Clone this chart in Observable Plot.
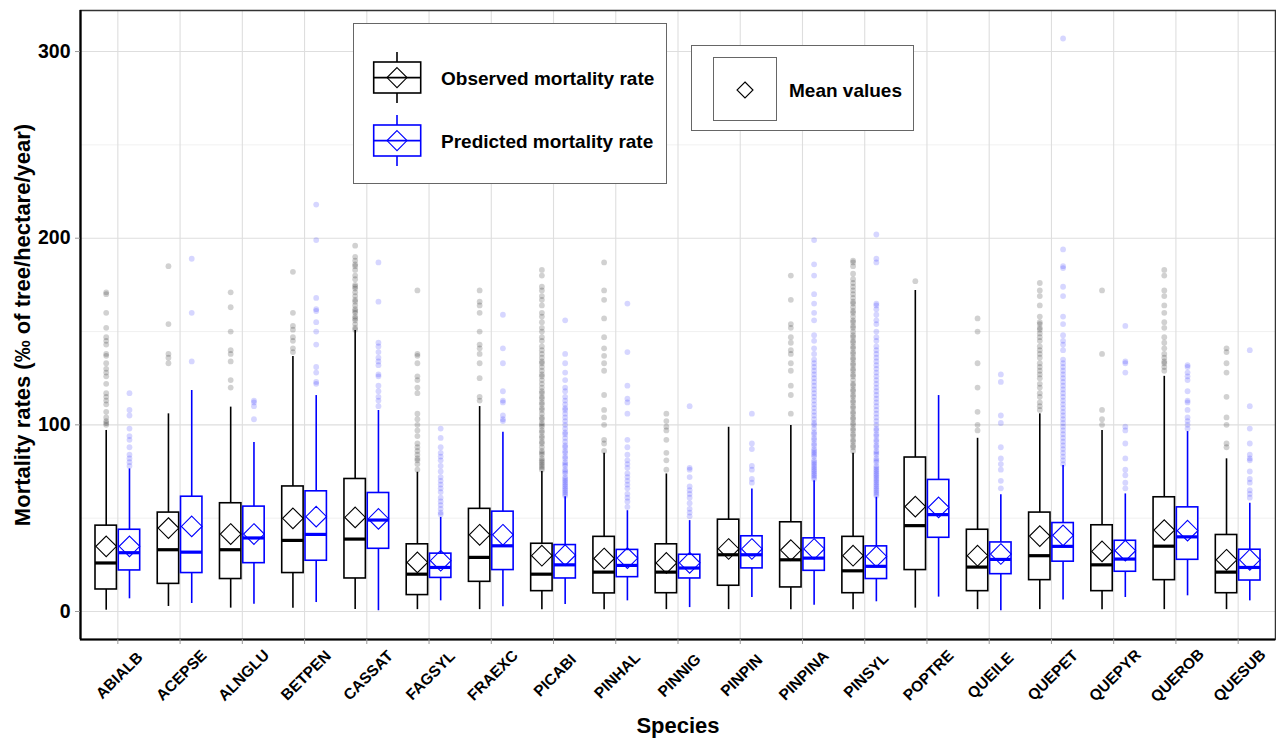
<!DOCTYPE html>
<html>
<head>
<meta charset="utf-8">
<script src="https://cdn.jsdelivr.net/npm/d3@7"></script>
<script src="https://cdn.jsdelivr.net/npm/@observablehq/plot@0.6"></script>
<style>
  html, body { margin: 0; padding: 0; background: #fff; }
  #wrap { position: relative; width: 1276px; height: 738px; font-family: "Liberation Sans", Arial, sans-serif; }
  .lg { position: absolute; background: #fff; border: 1px solid #666; box-sizing: border-box; }
  .lt { position: absolute; font-size: 19px; font-weight: bold; color: #000; white-space: nowrap; line-height: 1; }
</style>
</head>
<body>
<div id="wrap"></div>
<script>
// ---------- data ----------
const species = ["ABIALB","ACEPSE","ALNGLU","BETPEN","CASSAT","FAGSYL","FRAEXC","PICABI","PINHAL","PINNIG","PINPIN","PINPINA","PINSYL","POPTRE","QUEILE","QUEPET","QUEPYR","QUEROB","QUESUB"];

// Observed: lower whisker, Q1, median, Q3, upper whisker, mean
const obsLow  = [0.7, 2.7, 1.8, 1.8, 1.1, 1, 1, 1, 1, 1, 1, 1, 1, 1.8, 1, 1, 1, 1, 1];
const obsQ1   = [11.8, 14.8, 17.4, 20.6, 17.7, 8.8, 15.9, 10.9, 9.7, 9.8, 13.8, 12.9, 9.8, 22.2, 10.9, 16.8, 10.9, 16.8, 9.8];
const obsMed  = [26, 33.1, 33.1, 38.1, 38.8, 20, 29, 20, 21.1, 21.1, 30.4, 27.7, 21.8, 46, 23.8, 29.9, 25, 35, 21.1];
const obsQ3   = [46, 53, 58, 67, 71, 36, 55, 36.3, 40, 36, 49.2, 47.8, 40, 82.5, 43.8, 53, 46.2, 61.2, 41];
const obsHigh = [97, 105.9, 109.5, 136.6, 150.5, 74.6, 109.8, 75, 84.8, 73.7, 98.7, 99.6, 84.8, 172, 92.8, 105.9, 97, 126, 81.8];
const obsMean = [34.9, 44.7, 41.5, 49.9, 50.4, 26.3, 41.1, 29.9, 28.4, 26, 33.5, 32.9, 29.9, 56.2, 29.9, 40.4, 32.2, 43.6, 27.7];

// Predicted
const predLow  = [6.8, 4.3, 3.9, 4.8, 0.4, 5.7, 2.5, 3.8, 5.7, 2.1, 7.5, 3.4, 5.2, 7.7, 0.4, 6.1, 7.5, 8.4, 5.7];
const predQ1   = [22, 20.6, 25.9, 27.2, 33.6, 18, 22.2, 17.7, 18.4, 17.7, 23.1, 21.8, 17.4, 39.5, 20, 26.7, 21.3, 27.7, 16.6];
const predMed  = [31.5, 31.8, 39.4, 41.3, 49, 23.6, 35.2, 25, 24.7, 23.3, 30.4, 28.6, 24.2, 51.9, 27.9, 34.9, 28.1, 40, 23.6];
const predQ3   = [43.8, 61.5, 56.2, 64.4, 63.5, 31, 53.5, 35.6, 33, 30.4, 40.3, 39.2, 34.9, 70.5, 37, 47.4, 37.9, 55.8, 33.1];
const predHigh = [76.4, 118.4, 90.5, 115.7, 107.7, 50.4, 96, 61.5, 54, 48.7, 65.7, 70, 61.2, 115.7, 62.6, 78.2, 63, 96.4, 58];
const predMean = [34.9, 45.6, 41.5, 50.8, 49.6, 27.2, 41.1, 30.2, 28.6, 26.1, 33.5, 33.5, 29.5, 55.8, 30.8, 40.8, 32.6, 43.3, 27.7];

// Outliers per species
const obsOutliers = [
  [171, 170, 160, 152, 147, 145, 143, 138, 137, 133, 130, 128, 126, 122, 117, 115, 113, 111, 107, 104, 102, 101, 100],
  [185, 154, 138, 136, 133],
  [171, 163, 150, 140, 138, 134, 124, 120],
  [182, 160, 153, 151, 147, 145, 141, 139],
  [196, 190, 188, 186, 185, 183, 180, 178, 175, 174, 173, 171, 169, 167, 166, 164, 162, 161, 160, 158, 157, 156, 154, 152, 151],
  [172, 138, 137, 133, 126, 124, 120, 117, 106, 103, 100, 97, 94, 90, 88, 86, 84, 82, 81, 79, 76],
  [172, 166, 164, 160, 150, 143, 141, 138, 133, 125, 115, 113],
  [183, 180, 174, 172, 169, 167, 164, 160, 158, 155, 152, 150, 147, 145, 142, 140, 138, 136, 134, 133, 131, 129, 127, 126, 124, 122, 120, 118, 117, 115, 114, 112, 111, 109, 108, 106, 104, 103, 101, 100, 99, 97, 96, 94, 93, 91, 90, 88, 86, 85, 84, 82, 81, 80, 79, 78, 77, 76],
  [187, 172, 167, 157, 147, 141, 137, 133, 129, 116, 108, 104, 100, 92, 90, 86],
  [106, 102, 99, 97, 92, 85, 81, 76],
  [],
  [180, 167, 154, 152, 147, 144, 140, 138, 133, 129, 121, 116, 106],
  [188, 187, 185, 181, 178, 176, 174, 172, 170, 168, 166, 165, 163, 161, 160, 158, 156, 155, 153, 152, 150, 148, 147, 145, 144, 142, 141, 139, 138, 136, 135, 133, 132, 130, 129, 127, 126, 124, 122, 121, 119, 118, 116, 115, 113, 112, 110, 109, 107, 106, 104, 103, 101, 100, 98, 97, 95, 94, 92, 91, 89, 88, 86],
  [177],
  [157, 150, 133, 120, 107, 100, 97],
  [176, 172, 169, 164, 158, 155, 154, 152, 151, 149, 147, 145, 142, 140, 138, 136, 133, 131, 129, 127, 125, 122, 120, 117, 115, 112, 110, 108],
  [172, 138, 108, 103, 100],
  [183, 180, 172, 169, 164, 160, 155, 152, 147, 144, 141, 138, 136, 134, 133, 131, 129],
  [141, 139, 133, 128, 115, 104, 100, 90, 88]
];
const predOutliers = [
  [117, 108, 105, 98, 94, 92, 88, 84, 82, 80, 78],
  [189, 160, 134],
  [113, 112, 110, 103],
  [218, 199, 168, 162, 161, 155, 150, 143, 131, 128, 123, 122],
  [187, 166, 144, 142, 139, 136, 134, 132, 127, 126, 121, 118, 115, 113, 110],
  [98, 93, 88, 85, 83, 81, 78, 75, 72, 70, 68, 66, 64, 61, 59, 57, 55, 53, 52],
  [159, 141, 133, 118, 113, 112, 105, 103, 102],
  [156, 138, 133, 128, 124, 120, 118, 115, 113, 111, 109, 108, 106, 104, 102, 100, 98, 96, 95, 93, 91, 89, 88, 86, 85, 83, 82, 80, 79, 78, 76, 75, 74, 72, 71, 70, 69, 68, 67, 66, 65, 64, 63, 62],
  [165, 139, 121, 114, 112, 106, 92, 88, 84, 81, 79, 77, 74, 72, 70, 68, 66, 63, 61, 59, 56],
  [110, 77, 76, 72, 67, 65, 63, 61, 58, 55, 53, 51],
  [106, 90, 87, 78, 76, 71, 69],
  [199, 186, 180, 170, 165, 160, 156, 148, 145, 141, 138, 135, 133, 131, 129, 127, 125, 123, 121, 119, 117, 115, 113, 111, 109, 107, 105, 103, 101, 100, 98, 96, 95, 93, 92, 90, 89, 87, 86, 85, 84, 83, 81, 80, 79, 78, 77, 76, 75, 74, 73, 72, 71],
  [202, 189, 187, 165, 164, 162, 159, 156, 154, 150, 147, 145, 142, 140, 138, 136, 134, 132, 130, 128, 126, 124, 122, 120, 118, 116, 114, 112, 110, 108, 106, 104, 102, 100, 98, 97, 95, 94, 92, 91, 89, 88, 86, 85, 84, 82, 81, 80, 78, 77, 76, 75, 74, 73, 72, 71, 70, 69, 68, 67, 66, 65, 64, 63, 62],
  [],
  [127, 123, 105, 101, 88, 82, 79, 76, 70, 66],
  [307, 194, 185, 184, 174, 169, 158, 154, 148, 145, 143, 140, 135, 133, 131, 129, 127, 125, 123, 121, 119, 117, 115, 113, 111, 109, 107, 105, 103, 101, 99, 97, 95, 93, 91, 89, 87, 85, 83, 81, 79],
  [153, 134, 133, 128, 99, 97, 90, 82, 76, 73, 69, 66],
  [132, 131, 128, 126, 124, 118, 113, 112, 108, 104, 102, 100, 98],
  [140, 110, 98, 90, 84, 82, 81, 75, 71, 69, 65, 63, 61]
];

const yMajorTicks = [0, 100, 200, 300];
const yMinorTicks = [50, 150, 250];
const yLabel = "Mortality rates (‰ of tree/hectare/year)";
const xLabel = "Species";
const legendLabels = ["Observed mortality rate", "Predicted mortality rate", "Mean values"];

// ---------- build tables ----------
const OFF = 0.187, HW = 0.172;
function boxTable(sign, low, q1, med, q3, high, mean) {
  return species.map((s, i) => ({sp: s, x: i + 1 + sign * OFF, low: low[i], q1: q1[i], med: med[i], q3: q3[i], high: high[i], mean: mean[i]}));
}
function outTable(sign, lists) {
  return lists.flatMap((vals, i) => vals.map(v => ({x: i + 1 + sign * OFF, y: v})));
}
const obsBoxes = boxTable(-1, obsLow, obsQ1, obsMed, obsQ3, obsHigh, obsMean);
const predBoxes = boxTable(1, predLow, predQ1, predMed, predQ3, predHigh, predMean);
const obsPts = outTable(-1, obsOutliers);
const predPts = outTable(1, predOutliers);

function groupMarks(boxes, color) {
  return [
    Plot.ruleX(boxes, {x: "x", y1: "low", y2: "q1", stroke: color, strokeWidth: 1.6}),
    Plot.ruleX(boxes, {x: "x", y1: "q3", y2: "high", stroke: color, strokeWidth: 1.6}),
    Plot.rect(boxes, {x1: d => d.x - HW, x2: d => d.x + HW, y1: "q1", y2: "q3", fill: "white", stroke: color, strokeWidth: 1.6}),
    Plot.ruleY(boxes, {y: "med", x1: d => d.x - HW, x2: d => d.x + HW, stroke: color, strokeWidth: 3.2}),
    Plot.dot(boxes, {x: "x", y: "mean", symbol: "diamond2", r: 9.3, stroke: color, fill: "none", strokeWidth: 1.1})
  ];
}

const catPos = species.map((s, i) => i + 1);
const obsColor = "#000000", predColor = "#0000ff";

const chart = Plot.plot({
  width: 1276,
  height: 738,
  marginLeft: 80,
  marginRight: 1,
  marginTop: 10,
  marginBottom: 99,
  style: {fontFamily: "'Liberation Sans', Arial, sans-serif", background: "#fff"},
  x: {type: "linear", domain: [0.4, 19.6], axis: null},
  y: {domain: [-15, 322], axis: null},
  marks: [
    Plot.ruleY(yMinorTicks, {stroke: "#ececec", strokeWidth: 0.8}),
    Plot.ruleY(yMajorTicks, {stroke: "#dedede", strokeWidth: 1.1}),
    Plot.ruleX(catPos, {stroke: "#dedede", strokeWidth: 1.1}),
    Plot.dot(obsPts, {x: "x", y: "y", r: 2.9, fill: obsColor, fillOpacity: 0.18, stroke: "none"}),
    Plot.dot(predPts, {x: "x", y: "y", r: 2.9, fill: predColor, fillOpacity: 0.16, stroke: "none"}),
    ...groupMarks(obsBoxes, obsColor),
    ...groupMarks(predBoxes, predColor),
    Plot.frame({stroke: "#333", strokeWidth: 1.5}),
    Plot.ruleX([0.4], {stroke: "#000", strokeWidth: 2.2}),
    Plot.ruleY([-15], {stroke: "#000", strokeWidth: 2.2}),
    Plot.axisY({ticks: yMajorTicks, tickSize: 5, tickPadding: 5, stroke: "#999", fill: "#000", fontSize: 19.5, fontWeight: "bold", label: null}),
    Plot.axisX({ticks: catPos, tickSize: 5, stroke: "#999", tickFormat: () => "", label: null}),
    Plot.text(species, {x: (d, i) => i + 1, frameAnchor: "bottom", dy: 36, dx: 1.5, rotate: -45, textAnchor: "middle", lineAnchor: "middle", fontSize: 15.5, fontWeight: "bold", fill: "#000"}),
    Plot.text([xLabel], {frameAnchor: "bottom", dy: 86, textAnchor: "middle", lineAnchor: "middle", fontSize: 22, fontWeight: "bold", fill: "#000"}),
    Plot.text([yLabel], {frameAnchor: "left", dx: -58, rotate: -90, textAnchor: "middle", lineAnchor: "middle", fontSize: 22, fontWeight: "bold", fill: "#000"})
  ]
});

const wrap = document.getElementById("wrap");
wrap.appendChild(chart);

// ---------- legends (overlay) ----------
function keyGlyph(color) {
  return `<svg width="50" height="54" viewBox="0 0 50 54" style="position:absolute;overflow:visible">
    <line x1="24" y1="0" x2="24" y2="10" stroke="${color}" stroke-width="1.6"/>
    <line x1="24" y1="41" x2="24" y2="51" stroke="${color}" stroke-width="1.6"/>
    <rect x="0.7" y="10" width="47" height="31" fill="white" stroke="${color}" stroke-width="1.6"/>
    <line x1="0.7" y1="25.6" x2="47.7" y2="25.6" stroke="${color}" stroke-width="1.6"/>
    <path d="M24,15.6 L34,25.6 L24,35.6 L14,25.6 Z" fill="none" stroke="${color}" stroke-width="1.1"/>
  </svg>`;
}
const lg1 = document.createElement("div");
lg1.className = "lg";
lg1.style.cssText = "left:353px;top:23px;width:314px;height:161px;";
lg1.innerHTML = `
  <div style="position:absolute;left:19px;top:28px">${keyGlyph(obsColor)}</div>
  <div class="lt" style="left:87px;top:45px">${legendLabels[0]}</div>
  <div style="position:absolute;left:19px;top:91px">${keyGlyph(predColor)}</div>
  <div class="lt" style="left:87px;top:108px">${legendLabels[1]}</div>`;
wrap.appendChild(lg1);

const lg2 = document.createElement("div");
lg2.className = "lg";
lg2.style.cssText = "left:691px;top:45px;width:223px;height:86px;";
lg2.innerHTML = `
  <div style="position:absolute;left:21px;top:11px;width:64px;height:64px;border:1px solid #666;box-sizing:border-box;background:#fff">
    <svg width="62" height="62" style="position:absolute;left:0;top:0">
      <path d="M31,24 L39,32 L31,40 L23,32 Z" fill="none" stroke="#000" stroke-width="1.1"/>
    </svg>
  </div>
  <div class="lt" style="left:97px;top:35px">${legendLabels[2]}</div>`;
wrap.appendChild(lg2);
</script>
</body>
</html>
